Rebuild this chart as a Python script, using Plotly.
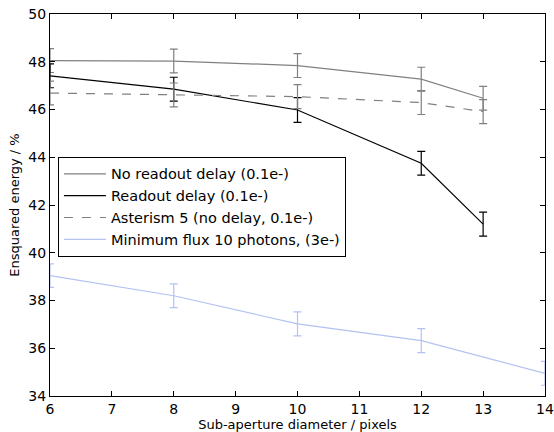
import plotly.graph_objects as go

x_main = [6, 8, 10, 12, 13]
no_delay = [48.05, 48.03, 47.84, 47.27, 46.47]
no_delay_err = [0.5, 0.5, 0.5, 0.5, 0.5]
delay = [47.41, 46.85, 45.98, 43.75, 41.2]
delay_err = [0.5, 0.5, 0.52, 0.5, 0.5]
asterism = [46.69, 46.61, 46.54, 46.29, 45.91]
asterism_err = [0.5, 0.5, 0.5, 0.5, 0.5]
x_flux = [6, 8, 10, 12, 14]
min_flux = [39.04, 38.2, 37.02, 36.32, 34.95]
min_flux_err = [0.49, 0.5, 0.5, 0.5, 0.5]

x_ticks = [6, 7, 8, 9, 10, 11, 12, 13, 14]
y_ticks = [34, 36, 38, 40, 42, 44, 46, 48, 50]

names = ["No readout delay (0.1e-)", "Readout delay (0.1e-)",
         "Asterism 5 (no delay, 0.1e-)", "Minimum flux 10 photons, (3e-)"]

fig = go.Figure()
series = [
    (x_main, no_delay, no_delay_err, "#808080", "solid"),
    (x_main, delay, delay_err, "#000000", "solid"),
    (x_main, asterism, asterism_err, "#808080", "dash"),
    (x_flux, min_flux, min_flux_err, "#b3c2f2", "solid"),
]
for name, (xs, ys, es, c, d) in zip(names, series):
    fig.add_trace(go.Scatter(
        x=xs, y=ys, mode="lines", name=name,
        line=dict(color=c, width=1.2, dash=d),
        error_y=dict(type="data", array=es, color=c, thickness=1.2, width=4),
        cliponaxis=True,
    ))

axis_common = dict(
    showline=True, linecolor="black", linewidth=1, mirror="ticks",
    ticks="inside", ticklen=5, tickcolor="black", showgrid=False, zeroline=False,
    tickfont=dict(family="DejaVu Sans", size=14, color="black"),
    automargin=False,
)
fig.update_xaxes(range=[6, 14], tickvals=x_ticks, **axis_common,
                 title=dict(text="Sub-aperture diameter / pixels",
                            font=dict(family="DejaVu Sans", size=13, color="black"),
                            standoff=2))
fig.update_yaxes(range=[34, 50], tickvals=y_ticks, **axis_common,
                 title=dict(text="Ensquared energy / %",
                            font=dict(family="DejaVu Sans", size=13, color="black"),
                            standoff=5))

fig.update_layout(
    width=554, height=432,
    margin=dict(l=50, r=9, t=14, b=36),
    plot_bgcolor="white", paper_bgcolor="white",
    font=dict(family="DejaVu Sans", color="black"),
    legend=dict(x=0.016, y=0.626, xanchor="left", yanchor="top",
                bordercolor="black", borderwidth=1, bgcolor="white",
                font=dict(family="DejaVu Sans", size=14.5, color="black"),
                itemwidth=42, tracegroupgap=0),
)

# remove the default page margin so the figure sits at the window's top-left
fig.write_html(
    "out.html",
    config={"displayModeBar": False},
    post_script="document.body.style.margin='0';document.body.style.overflow='hidden';",
)
